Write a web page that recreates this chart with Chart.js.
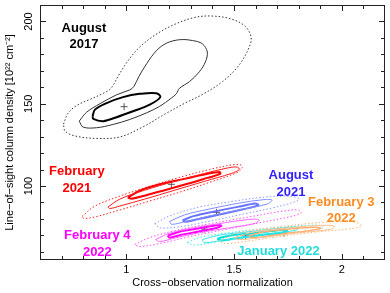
<!DOCTYPE html>
<html><head><meta charset="utf-8">
<script src="https://cdn.jsdelivr.net/npm/chart.js@4.4.1/dist/chart.umd.min.js"></script>
<style>html,body{margin:0;padding:0;background:#fff;}canvas{display:block;}</style>
</head><body>
<canvas id="c" width="390" height="293"></canvas>
<script>
// Axis ticks
const xTickLabels = [1, 1.5, 2];
const xMinorTicks = [0.7, 0.8, 0.9, 1.1, 1.2, 1.3, 1.4, 1.6, 1.7, 1.8, 1.9, 2.1];
const yTickLabels = [100, 150, 200];
const yMinorTicks = [60, 70, 80, 90, 110, 120, 130, 140, 160, 170, 180, 190];

// Best-fit centres (cross-observation normalization, column density)
const centerNames = ['August 2017', 'February 2021', 'August 2021', 'February 4 2022', 'January 2022', 'February 3 2022'];
const centerX = [0.99, 1.209, 1.419, 1.362, 1.554, 1.732];
const centerY = [148.2, 101.0, 84.0, 73.8, 69.6, 71.4];

// August 2017 contours
const aug17Thick = [[0.844,142.4],[0.855,146.4],[0.909,150.4],[0.985,154.0],[1.062,156.0],[1.139,156.4],[1.158,154.0],[1.109,149.4],[1.031,145.4],[0.955,141.8],[0.893,139.4],[0.847,140.8]];
const aug17Thin = [[0.782,139.4],[0.816,144.8],[0.878,150.0],[0.955,155.4],[1.016,158.4],[1.035,160.4],[1.058,166.4],[1.095,174.4],[1.141,182.4],[1.187,186.8],[1.247,188.9],[1.307,188.4],[1.353,186.4],[1.376,181.4],[1.367,175.4],[1.339,169.4],[1.293,163.4],[1.247,159.4],[1.232,156.0],[1.209,153.4],[1.155,148.4],[1.093,144.4],[1.016,140.4],[0.939,137.4],[0.862,135.4],[0.800,135.8]];
const aug17Dot = [[0.709,137.6],[0.730,144.2],[0.771,149.0],[0.831,152.6],[0.891,156.2],[0.928,159.2],[0.961,166.4],[0.998,174.2],[1.053,183.2],[1.132,191.6],[1.224,198.2],[1.316,202.4],[1.395,203.3],[1.487,201.5],[1.552,197.0],[1.579,190.4],[1.570,184.4],[1.524,173.6],[1.446,163.4],[1.353,155.6],[1.270,150.2],[1.178,143.6],[1.076,135.8],[0.970,129.8],[0.864,128.9],[0.762,130.4],[0.716,133.4]];

// February 2021 contours
const feb21Thick = [[1.007,92.9],[1.062,97.1],[1.155,101.0],[1.270,104.3],[1.362,107.0],[1.432,108.5],[1.436,107.3],[1.376,104.9],[1.284,101.3],[1.178,97.4],[1.085,94.1],[1.025,92.3]];
const feb21Thin = [[0.915,87.2],[0.970,92.0],[1.085,97.4],[1.224,102.8],[1.362,107.6],[1.469,110.9],[1.515,111.5],[1.524,110.0],[1.487,107.6],[1.362,102.8],[1.224,97.4],[1.085,92.0],[0.970,87.8],[0.924,86.3]];
const feb21Dot = [[0.795,81.5],[0.855,87.8],[0.970,93.8],[1.108,99.8],[1.247,105.2],[1.386,110.0],[1.501,113.0],[1.533,112.7],[1.538,111.2],[1.515,108.2],[1.386,102.2],[1.247,96.2],[1.108,90.8],[0.970,85.4],[0.855,81.2],[0.804,80.3]];

// August 2021 contours
const aug21Thick = [[1.261,79.1],[1.316,81.8],[1.409,84.5],[1.524,87.5],[1.598,89.3],[1.612,88.4],[1.547,86.0],[1.432,82.7],[1.330,79.7],[1.275,78.2]];
const aug21Thin = [[1.201,78.4],[1.270,82.4],[1.386,86.0],[1.524,89.6],[1.639,91.7],[1.676,91.4],[1.653,89.0],[1.524,85.4],[1.386,81.8],[1.270,78.2],[1.210,76.7]];
const aug21Dot = [[1.132,77.0],[1.201,81.8],[1.339,87.2],[1.501,90.8],[1.639,93.2],[1.755,93.8],[1.801,92.3],[1.778,90.2],[1.676,86.6],[1.524,82.4],[1.372,78.2],[1.247,75.2],[1.155,74.6]];

// February 4 2022 contours
const feb4Thick = [[1.192,69.8],[1.247,72.2],[1.339,74.3],[1.422,76.1],[1.441,75.8],[1.413,74.3],[1.330,72.2],[1.247,70.1],[1.201,68.6]];
const feb4Thin = [[1.136,67.4],[1.201,71.3],[1.316,74.6],[1.455,77.6],[1.570,79.7],[1.616,79.4],[1.598,77.3],[1.478,74.6],[1.339,71.6],[1.224,68.3],[1.155,66.2]];
const feb4Dot = [[1.039,64.4],[1.108,68.6],[1.224,72.8],[1.386,77.0],[1.570,81.2],[1.732,84.8],[1.801,85.4],[1.810,83.6],[1.755,81.2],[1.616,77.6],[1.455,73.4],[1.293,69.2],[1.155,65.0],[1.062,63.2]];

// January 2022 contours
const jan22Thick = [[1.422,68.0],[1.478,69.8],[1.593,71.3],[1.709,73.1],[1.746,73.4],[1.732,71.9],[1.616,70.1],[1.501,68.0],[1.441,66.8]];
const jan22Thin = [[1.353,67.4],[1.432,70.1],[1.570,72.2],[1.732,74.6],[1.801,74.9],[1.787,73.1],[1.663,71.0],[1.524,68.6],[1.409,66.2],[1.362,65.6]];
const jan22Dot = [[1.284,65.6],[1.339,68.6],[1.478,71.6],[1.663,74.3],[1.847,76.1],[1.916,75.8],[1.903,74.0],[1.778,71.9],[1.593,69.2],[1.432,66.2],[1.316,64.1]];

// February 3 2022 contours
const feb3Thick = [[1.570,69.8],[1.639,72.2],[1.755,73.7],[1.870,74.9],[1.903,74.3],[1.847,72.8],[1.732,71.0],[1.626,68.9],[1.579,68.6]];
const feb3Thin = [[1.501,68.6],[1.593,72.2],[1.755,74.6],[1.916,76.1],[1.967,75.5],[1.949,73.7],[1.801,71.6],[1.639,68.9],[1.524,67.4]];
const feb3Dot = [[1.432,66.8],[1.524,71.6],[1.709,75.2],[1.916,77.9],[2.055,78.2],[2.092,75.8],[2.041,74.0],[1.893,72.2],[1.709,69.2],[1.547,66.2],[1.455,65.0]];

const FONT = "'Liberation Sans', Arial, Helvetica, sans-serif";

function contour(points, color, width, dashed) {
  const pts = points.map(p => ({x: p[0], y: p[1]}));
  pts.push({x: points[0][0], y: points[0][1]});
  return {
    data: pts, showLine: true, borderColor: color, borderWidth: width,
    borderDash: dashed ? [1.5, 2] : [], pointRadius: 0, pointHoverRadius: 0,
    tension: 0.35, fill: false
  };
}

const datasets = [
  contour(aug17Dot, '#333', 1, true), contour(aug17Thin, '#333', 1, false), contour(aug17Thick, '#000', 2, false),
  contour(feb21Dot, '#ff2020', 1, true), contour(feb21Thin, '#ff1a1a', 1, false), contour(feb21Thick, '#ff0000', 2, false),
  contour(aug21Dot, '#8c98ff', 1, true), contour(aug21Thin, '#7f8cff', 1, false), contour(aug21Thick, '#6674ff', 2, false),
  contour(feb3Dot, '#ffb47a', 1, true), contour(feb3Thin, '#ffbf8c', 1, false), contour(feb3Thick, '#ffb070', 1.5, false),
  contour(feb4Dot, '#ff55ff', 1, true), contour(feb4Thin, '#ff66ff', 1, false), contour(feb4Thick, '#ff00ff', 2, false),
  contour(jan22Dot, '#44e6e6', 1, true), contour(jan22Thin, '#33e6e6', 1, false), contour(jan22Thick, '#00e0e0', 2, false),
  {
    data: centerX.map((x, i) => ({x, y: centerY[i]})), showLine: false,
    pointStyle: 'cross', pointRadius: 3.5, borderColor: '#555', borderWidth: 1, backgroundColor: '#555'
  }
];

const labels = [
  {x: 0.804, y: 195.8, lines: ['August', '2017'], color: '#000000'},
  {x: 0.771, y: 108.8, lines: ['February', '2021'], color: '#ff0000'},
  {x: 1.764, y: 106.4, lines: ['August', '2021'], color: '#3322ff'},
  {x: 1.997, y: 90.2, lines: ['February 3', '2022'], color: '#ff8c22'},
  {x: 0.866, y: 69.8, lines: ['February 4', '2022'], color: '#ff00ff'},
  {x: 1.706, y: 60.2, lines: ['January 2022'], color: '#22dddd'}
];

const framePlugin = {
  id: 'frame',
  afterDatasetsDraw(chart) {
    const {ctx, chartArea: a, scales: {x, y}} = chart;
    ctx.save();
    ctx.strokeStyle = '#222';
    ctx.lineWidth = 1;
    ctx.strokeRect(a.left + 0.5, a.top + 0.5, a.right - a.left - 1, a.bottom - a.top - 1);
    ctx.beginPath();
    const xt = (v, len) => {
      const p = Math.round(x.getPixelForValue(v)) + 0.5;
      ctx.moveTo(p, a.bottom); ctx.lineTo(p, a.bottom - len);
      ctx.moveTo(p, a.top); ctx.lineTo(p, a.top + len);
    };
    const yt = (v, len) => {
      const p = Math.round(y.getPixelForValue(v)) + 0.5;
      ctx.moveTo(a.left, p); ctx.lineTo(a.left + len, p);
      ctx.moveTo(a.right, p); ctx.lineTo(a.right - len, p);
    };
    xMinorTicks.forEach(v => xt(v, 4));
    xTickLabels.forEach(v => xt(v, 6));
    yMinorTicks.forEach(v => yt(v, 4));
    yTickLabels.forEach(v => yt(v, 6));
    ctx.stroke();
    // group labels
    ctx.font = 'bold 13px ' + FONT;
    ctx.textAlign = 'center';
    ctx.textBaseline = 'middle';
    labels.forEach(l => {
      const px = x.getPixelForValue(l.x), py = y.getPixelForValue(l.y);
      ctx.fillStyle = l.color;
      l.lines.forEach((t, i) => ctx.fillText(t, px, py + i * 16.5));
    });
    ctx.restore();
  }
};

new Chart(document.getElementById('c'), {
  type: 'scatter',
  data: {datasets},
  options: {
    responsive: false, animation: false, events: [],
    layout: {padding: {top: 3, right: 4, left: 0, bottom: 0}},
    plugins: {legend: {display: false}, tooltip: {enabled: false}},
    scales: {
      x: {
        type: 'linear', min: 0.6, max: 2.2,
        grid: {display: false, drawTicks: false}, border: {display: false},
        afterBuildTicks: s => { s.ticks = xTickLabels.map(v => ({value: v})); },
        ticks: {padding: 3, maxRotation: 0, color: '#000', font: {size: 11, family: FONT}, callback: v => String(v)},
        title: {display: true, text: 'Cross−observation normalization', color: '#000', font: {size: 11, family: FONT}, padding: {top: 0, bottom: 3}},
        afterFit: s => { s.height = 33; s.paddingLeft = 0; s.paddingRight = 0; }
      },
      y: {
        type: 'linear', min: 55, max: 210,
        grid: {display: false, drawTicks: false}, border: {display: false},
        afterBuildTicks: s => { s.ticks = yTickLabels.map(v => ({value: v})); },
        ticks: {minRotation: 90, maxRotation: 90, crossAlign: 'center', padding: 2, color: '#000', font: {size: 11, family: FONT}, callback: v => String(v)},
        title: {display: true, text: 'Line−of−sight column density [10²² cm⁻²]', color: '#000', font: {size: 11, family: FONT}, padding: {top: 3, bottom: 0}},
        afterFit: s => { s.width = 40; s.paddingTop = 0; s.paddingBottom = 0; }
      }
    }
  },
  plugins: [framePlugin]
});
</script>
</body></html>
